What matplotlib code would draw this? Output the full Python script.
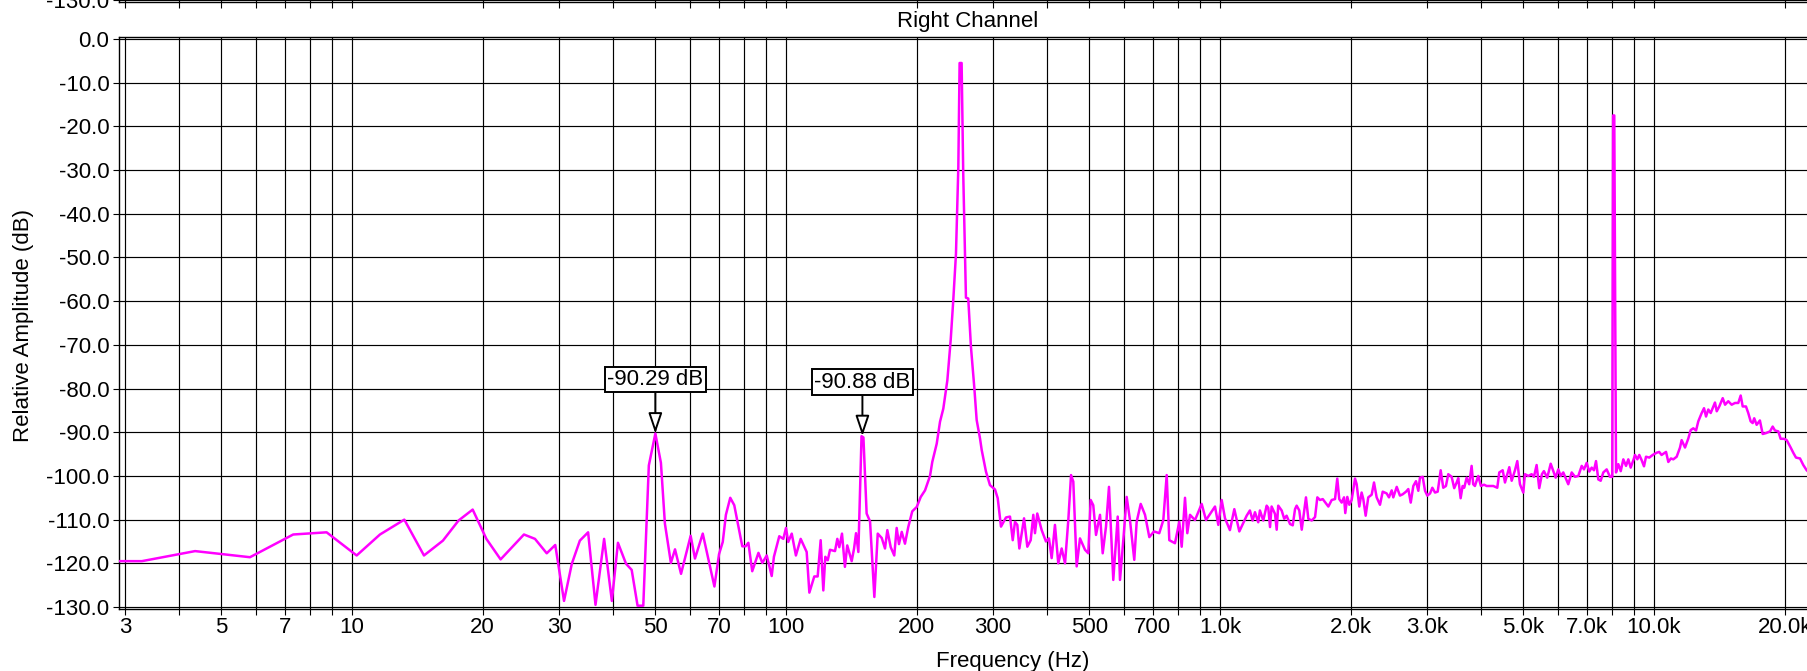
import matplotlib
matplotlib.use("Agg")
import matplotlib.pyplot as plt
from matplotlib.ticker import FixedLocator, FixedFormatter, NullFormatter

plt.rcParams['font.family'] = ['Liberation Sans', 'DejaVu Sans']
plt.rcParams['axes.unicode_minus'] = False

# spectrum (Hz, dB)
freq = [
    2.92, 3.28, 4.35, 5.82, 7.32, 8.74, 10.25, 11.6, 13.2, 14.65, 16.2, 17.6,
    18.97, 20.4, 22.0, 24.9, 26.4, 28.1, 29.4, 30.8, 32.1, 33.5, 35.0, 36.4,
    38.1, 39.7, 41.0, 42.8, 44.1, 45.5, 46.9, 48.3, 50.0, 51.5, 52.6, 54.3,
    55.5, 57.3, 60.3, 61.7, 64.3, 68.4, 70.1, 71.5, 72.7, 74.4, 76.0, 79.3,
    80.7, 81.9, 83.6, 86.4, 88.2, 90.3, 92.7, 93.8, 96.5, 98.6, 100.0, 101.2,
    103.1, 105.4, 108.1, 111.6, 113.2, 116.2, 118.3, 120.2, 121.9, 123.2, 124.8, 126.3,
    129.7, 131.3, 132.7, 134.6, 136.7, 138.4, 141.7, 143.5, 145.0, 146.8, 149.3, 150.8,
    153.4, 156.2, 159.8, 162.7, 166.2, 169.1, 171.2, 174.3, 177.6, 179.9, 182.1, 184.8,
    188.0, 191.3, 195.4, 200.1, 204.4, 209.1,
    214.7, 217.3, 222.5, 226.4, 230.4, 235.4, 239.6, 242.9, 246.4, 249.5, 251.2, 253.9,
    256.1, 258.4, 259.8, 263.0, 266.8, 271.5, 275.0, 279.9, 282.5, 288.9, 295.1, 303.1,
    307.5, 312.9,
    321.3, 328.2, 333.0, 337.0, 341.2, 344.9, 353.6, 359.8, 366.3, 371.4, 374.7, 379.3,
    388.3, 397.2, 403.6, 409.4, 416.6, 424.0, 431.7, 439.5, 447.2, 453.7, 459.2, 467.5,
    475.8, 488.6, 497.2, 503.5, 510.5, 518.0, 529.1, 536.7, 546.2, 554.9, 567.7, 581.2,
    588.3, 598.7, 609.5, 620.3, 634.6, 642.7, 656.6, 671.8, 687.3, 704.6, 724.6, 740.3,
    753.7, 764.2, 787.6, 805.8, 816.1, 830.6, 840.8, 852.9, 875.8, 907.4, 928.4, 973.9,
    991.1, 1009, 1027, 1054, 1079, 1108, 1152,
    1172, 1189, 1204, 1225, 1236, 1258, 1281, 1292, 1304, 1315, 1339, 1351,
    1362, 1387, 1406, 1424, 1450, 1471, 1489, 1502, 1523, 1543, 1578, 1598,
    1627, 1656, 1676, 1700, 1725, 1755, 1777, 1809, 1841, 1863, 1883, 1907,
    1931, 1944, 1965, 1986, 2011, 2047, 2065, 2094, 2120, 2139, 2166, 2196,
    2236, 2264, 2296, 2337, 2371, 2421, 2451, 2487, 2508, 2554, 2598, 2636,
    2683, 2716, 2751, 2789, 2829, 2864,
    2889, 2931, 2968, 3004, 3048, 3085, 3129, 3174, 3225, 3269, 3316, 3357,
    3418, 3465, 3510, 3540, 3585, 3623, 3654, 3701, 3752, 3800, 3832, 3867,
    3936, 3992, 4058, 4116, 4263, 4354, 4401, 4481, 4536, 4592, 4641, 4700,
    4783, 4842, 4911, 4998, 5043, 5132, 5225, 5289, 5365, 5440, 5518, 5577,
    5676, 5781, 5861, 5935, 6018, 6095, 6180, 6259, 6346, 6462, 6577, 6693,
    6815, 6898, 6998, 7094, 7185, 7274, 7352, 7442, 7537, 7642, 7780, 7917,
    8014, 8050, 8100, 8175, 8276, 8383, 8499, 8621, 8727,
    8838, 8961, 9042, 9153, 9250, 9367, 9484, 9585, 9754, 9931, 10140, 10280,
    10410, 10660, 10790, 10940, 11080, 11280, 11480, 11580, 11790, 12000, 12150, 12320,
    12500, 12650, 12880, 13040, 13180, 13340, 13510, 13650, 13820, 13950, 14140, 14400,
    14580, 14830, 15100, 15370, 15640, 15840, 16010, 16290, 16490, 16700, 16880, 17020,
    17240, 17540, 17800, 18110, 18510, 18770, 19000, 19340, 19580, 19930, 20220, 20650,
    20940, 21240, 21700, 22080, 22480, 23500,
]
level = [
    -119.5, -119.5, -117.2, -118.6, -113.4, -112.9, -118.2, -113.4, -110.0, -118.2, -114.8, -110.2,
    -107.7, -114.4, -119.1, -113.4, -114.4, -117.7, -115.8, -128.6, -120.1, -114.8, -112.9, -129.5,
    -114.4, -128.6, -115.3, -120.1, -121.5, -129.7, -129.7, -97.6, -90.3, -97.0, -110.9, -119.9,
    -116.8, -122.4, -113.7, -118.9, -113.2, -125.3, -117.9, -115.1, -108.9, -105.0, -106.7, -116.1,
    -116.1, -115.3, -121.8, -117.6, -119.9, -118.2, -122.9, -118.5, -113.8, -114.4, -111.9, -115.1,
    -113.2, -118.2, -114.4, -117.4, -126.7, -123.0, -123.0, -114.7, -126.2, -118.5, -119.3, -116.9,
    -117.2, -114.4, -116.3, -113.2, -120.8, -115.9, -119.5, -116.6, -113.1, -117.4, -90.9, -91.2,
    -108.6, -110.4, -127.7, -113.2, -114.2, -116.6, -112.4, -116.3, -118.2, -111.9, -115.6, -112.8,
    -115.5, -111.7, -108.1, -107.1, -104.8, -103.3,
    -100.0, -96.8, -92.6, -87.6, -84.6, -78.1, -68.9, -59.8, -49.2, -29.4, -5.5, -5.5,
    -30.9, -49.2, -59.2, -59.4, -70.5, -79.6, -87.2, -91.4, -94.1, -99.0, -102.1, -103.1,
    -105.1, -111.6,
    -109.5, -109.3, -114.7, -110.5, -111.2, -116.6, -109.7, -116.2, -114.7, -108.9, -113.1, -108.6,
    -112.4, -115.0, -114.3, -118.8, -111.2, -120.0, -116.6, -120.0, -110.1, -99.8, -101.3, -120.7,
    -114.3, -116.9, -117.7, -105.5, -106.7, -113.5, -108.9, -117.7, -111.6, -102.5, -123.8, -109.3,
    -123.8, -114.7, -104.8, -110.1, -119.2, -110.5, -106.4, -108.9, -114.0, -112.7, -113.1, -110.1,
    -99.8, -114.7, -115.4, -110.5, -116.2, -105.0, -113.1, -108.9, -110.1, -106.4, -110.1, -107.0,
    -111.2, -105.5, -109.7, -112.4, -107.6, -112.7, -109.1,
    -107.9, -110.2, -108.3, -110.6, -107.9, -110.2, -106.8, -107.3, -111.7, -107.0, -108.7, -112.3,
    -106.8, -107.9, -109.8, -109.1, -111.0, -111.3, -107.6, -106.8, -107.9, -112.3, -104.9, -109.8,
    -110.2, -109.4, -104.9, -105.5, -105.3, -106.3, -107.0, -105.5, -105.3, -100.6, -105.3, -106.1,
    -104.9, -108.5, -104.8, -106.6, -105.5, -100.6, -101.9, -107.0, -103.8, -105.3, -109.1, -104.9,
    -104.3, -101.5, -104.9, -106.6, -103.6, -104.0, -104.9, -103.3, -104.9, -102.5, -104.5, -104.2,
    -103.6, -103.0, -106.1, -102.3, -101.2, -103.4,
    -100.4, -100.2, -103.4, -104.5, -104.0, -102.7, -103.8, -103.6, -98.7, -102.7, -102.3, -99.6,
    -100.2, -102.8, -101.5, -100.5, -105.1, -102.3, -102.7, -100.4, -101.9, -97.7, -101.9, -102.3,
    -100.0, -102.3, -102.0, -102.3, -102.3, -102.7, -99.2, -98.7, -101.5, -99.6, -98.0, -101.1,
    -98.7, -96.6, -101.9, -103.8, -99.6, -100.0, -99.6, -100.2, -97.5, -102.8, -99.6, -98.9,
    -100.4, -97.2, -98.9, -100.4, -98.5, -100.0, -99.2, -100.5, -101.9, -99.2, -100.2, -100.0,
    -97.7, -98.5, -97.0, -99.0, -98.1, -98.7, -96.6, -100.8, -101.1, -99.2, -98.5, -100.2,
    -100.2, -17.5, -17.5, -99.2, -97.3, -98.9, -96.2, -97.7, -96.2,
    -98.1, -96.4, -95.2, -96.2, -95.2, -96.4, -97.8, -95.6, -95.8, -95.2, -94.7, -94.5,
    -95.2, -94.5, -96.8, -96.0, -96.2, -95.6, -93.5, -91.8, -93.5, -91.4, -89.5, -89.1,
    -89.6, -87.5, -85.6, -84.5, -86.4, -84.8, -85.6, -84.5, -83.2, -85.2, -84.1, -82.2,
    -83.7, -82.9, -83.7, -83.3, -83.3, -81.6, -84.1, -84.1, -85.6, -87.5, -87.9, -86.8,
    -88.3, -87.3, -90.4, -90.2, -89.8, -88.7, -89.6, -89.8, -91.5, -91.5, -91.8, -93.5,
    -94.7, -95.8, -96.0, -97.5, -98.7, -100.5,
]

marker_freq = [50.0, 150.0]
marker_db = [-90.29, -90.88]

xtick_vals = [3, 5, 7, 10, 20, 30, 50, 70, 100, 200, 300, 500, 700,
              1000, 2000, 3000, 5000, 7000, 10000, 20000]
xtick_text = ['3', '5', '7', '10', '20', '30', '50', '70', '100', '200', '300', '500', '700',
              '1.0k', '2.0k', '3.0k', '5.0k', '7.0k', '10.0k', '20.0k']
xminor_vals = [4, 6, 8, 9, 40, 60, 80, 90, 400, 600, 800, 900, 4000, 6000, 8000, 9000]
ytick_vals = [0, -10, -20, -30, -40, -50, -60, -70, -80, -90, -100, -110, -120, -130]

FS = 16
W, H = 1807, 671
fig = plt.figure(figsize=(W / 100, H / 100), dpi=100)
L, R, T, B = 119, 1819, 37, 609
ax = fig.add_axes([L / W, 1 - B / H, (R - L) / W, (B - T) / H])

def style_axis(a):
    a.set_xscale('log')
    a.set_xlim(2.905, 24000)
    a.set_ylim(-130.45, 0.45)
    a.xaxis.set_major_locator(FixedLocator(xtick_vals))
    a.xaxis.set_major_formatter(FixedFormatter(xtick_text))
    a.xaxis.set_minor_locator(FixedLocator(xminor_vals))
    a.xaxis.set_minor_formatter(NullFormatter())
    a.grid(True, which='both', axis='x', color='black', lw=0.85)
    a.grid(True, which='major', axis='y', color='black', lw=0.85)
    a.set_axisbelow(True)
    for s in a.spines.values():
        s.set_linewidth(1.0)
    a.tick_params(axis='both', which='both', direction='out', length=4, width=0.8,
                  labelsize=FS, colors='black')
    a.tick_params(axis='y', pad=3)
    a.tick_params(axis='x', pad=2)

style_axis(ax)
ax.set_yticks(ytick_vals)
ax.set_yticklabels([f'{v:.1f}' for v in ytick_vals])

ax.plot(freq, level, color='#FF00FF', lw=1.8, zorder=3)

for fx, fy in zip(marker_freq, marker_db):
    ax.annotate(f'{fy:.2f} dB', xy=(fx, fy), xytext=(0, 54), textcoords='offset pixels',
                ha='center', va='center', fontsize=FS, zorder=5,
                bbox=dict(boxstyle='square,pad=0.1', fc='white', ec='black', lw=1.4),
                arrowprops=dict(arrowstyle='-|>,head_length=1.25,head_width=0.42',
                                fc='white', ec='black', lw=1.4,
                                shrinkA=0, shrinkB=0, mutation_scale=10))

# bottom edge of the plot above, cut off by the frame
ax_top = fig.add_axes([L / W, 1 - 1.5 / H, (R - L) / W, 0.6])
style_axis(ax_top)
ax_top.set_yticks([-130])
ax_top.set_yticklabels(['-130.0'])
ax_top.tick_params(axis='x', which='both', labelbottom=False)

fig.text(968 / W, 1 - 22 / H, 'Right Channel', ha='center', va='center', fontsize=FS)
fig.text(1013 / W, 1 - 661 / H, 'Frequency (Hz)', ha='center', va='center', fontsize=FS)
fig.text(24 / W, 1 - 326 / H, 'Relative Amplitude (dB)', ha='center', va='center',
         fontsize=FS, rotation=90)

fig.savefig('out.png', dpi=100)
